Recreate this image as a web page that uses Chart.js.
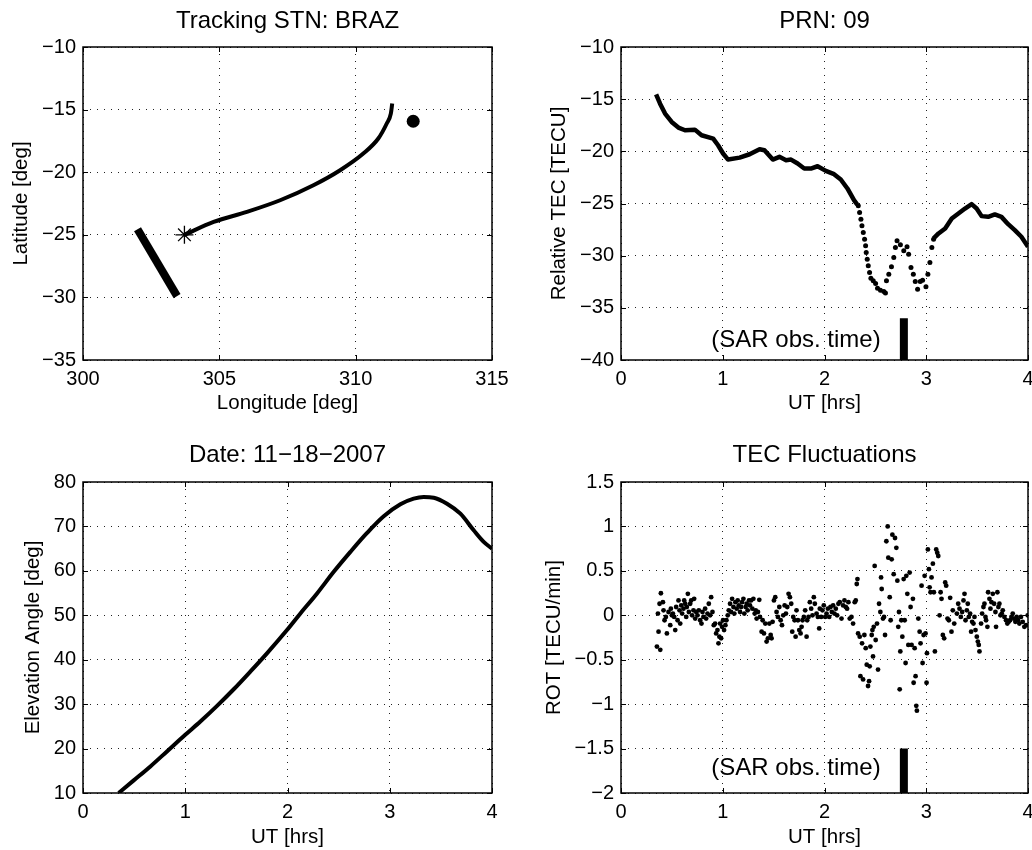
<!DOCTYPE html>
<html lang="en">

<head>
    <meta charset="UTF-8">
    <title>Tracking STN: BRAZ - PRN 09</title>
    <script src="https://cdn.jsdelivr.net/npm/chart.js"></script>
    <style>
        body { margin: 0; background: #fff; }
        .painel { position: absolute; }
    </style>
</head>

<body>
    <canvas id="canvas_track" class="painel" width="516" height="425" style="left:0;top:0"></canvas>
    <canvas id="canvas_tec" class="painel" width="516" height="425" style="left:516px;top:0"></canvas>
    <canvas id="canvas_elev" class="painel" width="516" height="425" style="left:0;top:425px"></canvas>
    <canvas id="canvas_rot" class="painel" width="516" height="425" style="left:516px;top:425px"></canvas>
</body>

</html>
<script>
    // ---- dados ----
    // trajetoria do ponto ionosferico (lon / lat)
    const trackLon = [303.72, 304.79, 306.01, 307.23, 308.45, 309.43, 310.28, 310.83, 311.14, 311.29, 311.34];
    const trackLat = [-25.0, -23.97, -23.17, -22.24, -21.04, -19.84, -18.51, -17.31, -16.11, -15.32, -14.52];
    const startLon = [303.72];
    const startLat = [-25.0];
    const stationLon = [312.11];
    const stationLat = [-15.93];
    const sceneLon = [302.0, 303.45];
    const sceneLat = [-24.55, -29.9];

    // TEC relativo: trecho inicial, trecho perturbado (pontos) e trecho final
    const tecT1 = [0.345, 0.384, 0.433, 0.498, 0.564, 0.629, 0.726, 0.792, 0.906, 0.954, 1.003, 1.052, 1.166, 1.264, 1.362, 1.41, 1.492, 1.557, 1.622, 1.671, 1.736, 1.801, 1.866, 1.932, 2.013, 2.094, 2.16, 2.225, 2.29, 2.322];
    const tecV1 = [-14.53, -15.43, -16.38, -17.18, -17.72, -17.98, -17.92, -18.46, -18.78, -19.42, -20.21, -20.79, -20.6, -20.28, -19.8, -19.89, -20.79, -20.53, -20.85, -20.79, -21.17, -21.65, -21.65, -21.43, -21.87, -22.19, -22.7, -23.56, -24.68, -25.1];
    const tecT2 = [2.332, 2.345, 2.358, 2.368, 2.381, 2.394, 2.404, 2.41, 2.42, 2.43, 2.443, 2.456, 2.479, 2.502, 2.521, 2.55, 2.583, 2.599, 2.609, 2.632, 2.658, 2.681, 2.697, 2.713, 2.746, 2.779, 2.811, 2.827, 2.85, 2.873, 2.892, 2.915, 2.941, 2.964, 2.997, 3.016, 3.036, 3.055, 3.072];
    const tecV2 = [-25.22, -25.86, -26.5, -27.14, -27.78, -28.42, -29.06, -29.7, -30.34, -30.97, -31.61, -32.16, -32.41, -32.67, -33.12, -33.31, -33.43, -33.59, -32.41, -31.77, -31.07, -30.18, -29.22, -28.58, -28.96, -29.54, -29.15, -29.86, -31.13, -31.77, -32.48, -33.21, -32.48, -32.35, -32.99, -31.77, -30.65, -29.22, -28.42];
    const tecT3 = [3.072, 3.121, 3.186, 3.251, 3.316, 3.381, 3.446, 3.495, 3.544, 3.609, 3.674, 3.739, 3.805, 3.87, 3.935, 4.0];
    const tecV3 = [-28.35, -27.87, -27.39, -26.44, -25.96, -25.48, -25.06, -25.48, -26.21, -26.28, -26.05, -26.28, -26.98, -27.55, -28.19, -29.15];

    // angulo de elevacao
    const elevT = [0.349, 0.496, 0.659, 0.821, 1.0, 1.148, 1.311, 1.474, 1.636, 1.799, 1.995, 2.126, 2.289, 2.452, 2.615, 2.778, 2.941, 3.104, 3.234, 3.332, 3.43, 3.56, 3.691, 3.821, 3.919, 4.0];
    const elevV = [10.0, 12.84, 15.99, 19.36, 23.1, 26.09, 29.61, 33.35, 37.32, 41.44, 46.68, 50.42, 54.91, 59.78, 64.27, 68.53, 72.28, 74.97, 76.24, 76.62, 76.47, 75.12, 72.87, 69.13, 66.51, 65.0];

    // ROT (TECU/min)
    const rotT = [
        0.353, 0.386, 0.369, 0.363, 0.379, 0.392, 0.412, 0.418, 0.428, 0.441, 0.451, 0.467, 0.484, 0.49, 0.5, 0.51, 0.523, 0.533, 0.542, 0.556, 0.565, 0.575, 0.582, 0.592, 0.601, 0.614, 0.621, 0.631, 0.641, 0.647, 0.657, 0.667, 0.68, 0.69, 0.699, 0.712, 0.719,
        0.729, 0.739, 0.752, 0.765, 0.778, 0.791, 0.801, 0.81, 0.827, 0.837, 0.85, 0.863, 0.876, 0.886, 0.899, 0.912, 0.925, 0.935, 0.948, 0.958, 0.967, 0.974, 0.984, 0.993, 1.003, 1.013, 1.026, 1.036,
        1.049, 1.059, 1.072, 1.082, 1.092, 1.105, 1.114, 1.124, 1.137, 1.147, 1.157, 1.17, 1.18, 1.19, 1.203, 1.212, 1.225, 1.235, 1.245, 1.258, 1.268, 1.278, 1.291, 1.301, 1.314, 1.324, 1.333, 1.346, 1.359, 1.366, 1.382, 1.392, 1.405, 1.418, 1.431, 1.444, 1.458, 1.471, 1.48, 1.49,
        1.503, 1.516, 1.529, 1.542, 1.556, 1.569, 1.582, 1.595, 1.608, 1.621, 1.634, 1.647, 1.66, 1.673, 1.683, 1.693, 1.706, 1.716, 1.725, 1.739, 1.752, 1.765, 1.775, 1.784, 1.797, 1.81, 1.824, 1.83, 1.843, 1.856, 1.869, 1.882, 1.895, 1.905,
        1.922, 1.935, 1.948, 1.954, 1.967, 1.98, 1.993, 2.007, 2.02, 2.033, 2.046, 2.059, 2.072, 2.085, 2.098, 2.111, 2.124, 2.137, 2.15, 2.167, 2.183, 2.196, 2.209, 2.222, 2.235, 2.248, 2.265, 2.281, 2.297, 2.307,
        2.317, 2.324, 2.33, 2.346, 2.353, 2.369, 2.379, 2.392, 2.405, 2.415, 2.428, 2.438, 2.444, 2.451, 2.464, 2.471, 2.477, 2.484, 2.493, 2.503, 2.516, 2.526, 2.536, 2.549, 2.556, 2.562, 2.575, 2.585, 2.595, 2.608, 2.621, 2.627, 2.641, 2.65, 2.66, 2.667, 2.68, 2.693, 2.706, 2.716, 2.725, 2.732,
        2.739, 2.745, 2.755, 2.765, 2.778, 2.788, 2.797, 2.804, 2.814, 2.824, 2.837, 2.846, 2.856, 2.869, 2.876, 2.886, 2.895, 2.902, 2.908, 2.922, 2.935, 2.944, 2.954, 2.964, 2.974, 2.984, 2.993, 3.003, 3.007,
        3.016, 3.026, 3.033, 3.042, 3.052, 3.065, 3.075, 3.085, 3.098, 3.108, 3.118, 3.131, 3.141, 3.15, 3.163, 3.176, 3.186, 3.196, 3.209, 3.222, 3.235, 3.248, 3.261, 3.275,
        3.301, 3.314, 3.327, 3.34, 3.353, 3.366, 3.376, 3.386, 3.399, 3.408, 3.418, 3.431, 3.441, 3.451, 3.464, 3.474, 3.484, 3.497, 3.507, 3.516, 3.523, 3.539, 3.549, 3.562, 3.572, 3.582, 3.588, 3.601,
        3.608, 3.621, 3.631, 3.641, 3.654, 3.667, 3.68, 3.686, 3.699, 3.709, 3.719, 3.729, 3.742, 3.752, 3.768, 3.784, 3.797, 3.81, 3.824, 3.837, 3.85, 3.863, 3.876, 3.889, 3.902, 3.915, 3.931, 3.948, 3.964, 3.98, 3.997
    ];
    const rotV = [
        -0.352, -0.389, -0.185, 0.019, 0.13, 0.248, 0.148, 0.056, -0.056, -0.019, -0.204, 0.037, -0.111, 0.074, 0, 0.019, -0.019, -0.167, 0.093, -0.056, 0.167, 0.056, -0.093, 0.111, 0.019, 0.074, 0.167, 0.13, -0.019, 0.093, 0.241, 0.037, 0.13, 0.167, 0, 0.056, 0.185,
        -0.037, 0.037, 0, 0.056, -0.056, -0.093, 0.037, -0.019, 0.074, -0.037, 0.019, 0.13, 0, 0.204, 0.037, -0.111, -0.093, -0.204, -0.167, -0.315, -0.241, -0.093, -0.259, -0.13, -0.056, -0.167, -0.111, -0.056,
        0, 0.056, 0.13, 0.037, 0.185, 0.093, 0.019, 0.148, 0.074, 0.167, 0.111, 0.037, 0.093, 0.148, 0.185, 0.019, 0.093, 0.13, 0.056, 0.167, 0.111, 0.167, 0.074, 0.185, 0.019, 0.056, -0.037, 0.037, 0.174, -0.019, -0.185, -0.056, -0.204, -0.093, -0.296, -0.259, -0.093, -0.222, -0.259, -0.074,
        0.167, 0.204, 0.037, -0.019, 0.093, -0.056, -0.111, 0, 0.111, 0.019, 0.093, 0.241, 0.204, 0.13, -0.185, -0.019, -0.056, -0.241, 0.056, -0.056, -0.167, -0.204, -0.13, -0.056, -0.019, 0.056, -0.241, -0.056, -0.019, 0.148, 0.074, 0, 0.204, 0.13,
        0.019, -0.019, -0.148, 0.074, -0.019, 0.056, 0.111, -0.019, 0.019, 0.074, -0.019, 0.093, 0.037, 0.111, 0.019, 0.074, 0, 0.13, 0.148, -0.037, 0.111, 0.167, 0.093, 0.074, 0.148, -0.037, -0.019, -0.093, 0.148, 0.167,
        0.352, 0.407, -0.204, -0.241, -0.685, -0.315, -0.722, -0.222, -0.37, -0.556, -0.796, -0.741, -0.574, -0.352, -0.222, -0.167, -0.463, -0.13, 0.556, -0.278, -0.093, -0.611, 0.13, 0.037, 0.426, 0.296, -0.037, -0.019, -0.222, 0.833, 1.0, 0.648, 0.204, -0.056, 0.63, 0.907, 0.463, 0.87, 0.759, 0.389, -0.13, 0.037,
        -0.833, -0.407, -0.056, -0.241, 0.407, -0.056, -0.537, 0.444, 0.241, -0.333, 0.481, 0.093, -0.333, 0.185, -0.759, -0.37, -0.685, -1.019, -1.074, -0.037, -0.185, -0.315, 0.333, -0.537, -0.222, 0.444, -0.204, -0.759, -0.426,
        0.741, 0.519, 0.315, 0.259, 0.426, 0.581, 0.259, -0.407, 0.741, 0.704, 0.667, 0, 0.259, 0.185, -0.222, -0.259, 0.37, 0.333, -0.037, -0.056, 0.196, -0.185, 0.056, -0.093,
        0.019, 0.13, 0.074, -0.019, 0.037, 0.167, 0.241, -0.056, 0.056, 0.13, -0.019, 0.019, -0.185, -0.074, -0.093, -0.019, -0.167, -0.241, -0.296, -0.333, -0.407, -0.093, 0.019, 0.093, 0.13, -0.019, -0.056, -0.13,
        0.259, 0.185, 0.074, 0.148, 0.241, 0.13, 0.037, -0.13, 0.259, 0.093, 0.13, 0, 0.019, 0.056, -0.019, -0.056, -0.093, -0.074, -0.056, -0.019, 0.019, -0.037, -0.074, -0.019, -0.056, -0.093, -0.019, -0.074, -0.13, -0.111, 0
    ];

    // marca do horario da imagem SAR
    const sarLabel = '(SAR obs. time)';
    const sarT = [2.78, 2.78];
    const sarTecV = [-36, -40];
    const sarRotV = [-1.5, -2];
    const sarTextT = 1.72;
    const sarTextTec = -38.1;
    const sarTextRot = -1.72;

    // ticks dos eixos
    const lonTicks = [300, 305, 310, 315];
    const latTicks = [-35, -30, -25, -20, -15, -10];
    const utTicks = [0, 1, 2, 3, 4];
    const tecTicks = [-40, -35, -30, -25, -20, -15, -10];
    const elevTicks = [10, 20, 30, 40, 50, 60, 70, 80];
    const rotTicks = [-2, -1.5, -1, -0.5, 0, 0.5, 1, 1.5];

    const fonte = "'Liberation Sans', Arial, Helvetica, sans-serif";

    function rotulo(v) {
        return String(v).replace('-', '\u2212');
    }

    function pontos(xs, ys) {
        return xs.map(function (x, i) { return { x: x, y: ys[i] }; });
    }

    // caixa fechada + ticks para dentro (estilo matlab) e texto do SAR
    const eixosMatlab = {
        id: 'eixosMatlab',
        afterDraw(chart, args, opts) {
            const ctx = chart.ctx, a = chart.chartArea, sx = chart.scales.x, sy = chart.scales.y;
            ctx.save();
            ctx.strokeStyle = '#000';
            ctx.lineWidth = 1;
            ctx.beginPath();
            sx.ticks.forEach(function (t) {
                const p = Math.round(sx.getPixelForValue(t.value)) + 0.5;
                ctx.moveTo(p, a.bottom); ctx.lineTo(p, a.bottom - 5);
                ctx.moveTo(p, a.top); ctx.lineTo(p, a.top + 5);
            });
            sy.ticks.forEach(function (t) {
                const p = Math.round(sy.getPixelForValue(t.value)) + 0.5;
                ctx.moveTo(a.left, p); ctx.lineTo(a.left + 5, p);
                ctx.moveTo(a.right, p); ctx.lineTo(a.right - 5, p);
            });
            ctx.stroke();
            ctx.lineWidth = 1.5;
            ctx.strokeRect(a.left, a.top, a.width, a.height);
            if (opts.texto) {
                ctx.fillStyle = '#000';
                ctx.font = '24px ' + fonte;
                ctx.textAlign = 'center';
                ctx.textBaseline = 'middle';
                ctx.fillText(opts.texto.label, sx.getPixelForValue(opts.texto.x), sy.getPixelForValue(opts.texto.y));
            }
            ctx.restore();
        }
    };

    function eixo(min, max, valores, titulo, tamanho, padTitulo, horizontal) {
        return {
            type: 'linear',
            min: min,
            max: max,
            afterBuildTicks: function (s) { s.ticks = valores.map(function (v) { return { value: v }; }); },
            afterFit: function (s) {
                if (horizontal) { s.height = tamanho; s.paddingLeft = 0; s.paddingRight = 0; }
                else { s.width = tamanho; s.paddingTop = 0; s.paddingBottom = 0; }
            },
            ticks: {
                color: '#000', padding: 7, autoSkip: false, maxRotation: 0,
                font: { family: fonte, size: 20 },
                callback: function (v) { return rotulo(v); }
            },
            grid: { color: '#222', lineWidth: 1, drawTicks: false },
            border: { display: false, dash: [1, 6] },
            title: {
                display: true, text: titulo, color: '#000',
                font: { family: fonte, size: 20.5 },
                padding: horizontal ? { top: 0, bottom: padTitulo } : { top: padTitulo, bottom: 0 }
            }
        };
    }

    function criarPainel(id, c) {
        return new Chart(document.getElementById(id), {
            type: 'scatter',
            data: { datasets: c.datasets },
            options: {
                responsive: false,
                animation: false,
                events: [],
                layout: { padding: { left: 0, right: c.padRight, top: 0, bottom: 0 } },
                plugins: {
                    legend: { display: false },
                    tooltip: { enabled: false },
                    title: {
                        display: true, text: c.titulo, color: '#000', fullSize: false,
                        font: { family: fonte, size: 24, weight: 'normal' },
                        padding: c.padTitulo
                    },
                    eixosMatlab: { texto: c.texto }
                },
                scales: {
                    x: eixo(c.x[0], c.x[1], c.x[2], c.x[3], c.x[4], c.x[5], true),
                    y: eixo(c.y[0], c.y[1], c.y[2], c.y[3], c.y[4], c.y[5], false)
                }
            },
            plugins: [eixosMatlab]
        });
    }

    const linha = function (xs, ys, largura) {
        return {
            data: pontos(xs, ys), showLine: true, borderColor: '#000', borderWidth: largura,
            pointRadius: 0, borderCapStyle: 'butt', borderJoinStyle: 'round'
        };
    };
    const barra = function (xs, ys, largura) {
        return {
            data: pontos(xs, ys), showLine: true, borderColor: '#000', borderWidth: largura,
            pointRadius: 0, borderCapStyle: 'butt', borderJoinStyle: 'miter', clip: 0
        };
    };
    const nuvem = function (xs, ys, raio) {
        return { data: pontos(xs, ys), showLine: false, pointRadius: raio, backgroundColor: '#000', borderWidth: 0 };
    };

    const topo = { top: 6.6, bottom: 11.6 };
    const baixo = { top: 15.6, bottom: 12.6 };

    criarPainel('canvas_track', {
        titulo: 'Tracking STN: BRAZ', padTitulo: topo, padRight: 24,
        x: [300, 315, lonTicks, 'Longitude [deg]', 65, 9],
        y: [-35, -10, latTicks, 'Latitude [deg]', 83, 9.5],
        datasets: [
            Object.assign(linha(trackLon, trackLat, 4), { cubicInterpolationMode: 'monotone' }),
            barra(sceneLon, sceneLat, 8),
            { data: pontos(startLon, startLat), pointStyle: 'star', pointRadius: 9, borderColor: '#000', borderWidth: 1.3, backgroundColor: 'rgba(0,0,0,0)' },
            nuvem(stationLon, stationLat, 6.5)
        ]
    });

    criarPainel('canvas_tec', {
        titulo: 'PRN: 09', padTitulo: topo, padRight: 2,
        x: [0, 4, utTicks, 'UT [hrs]', 65, 9],
        y: [-40, -10, tecTicks, 'Relative TEC [TECU]', 105, 31.3],
        texto: { label: sarLabel, x: sarTextT, y: sarTextTec },
        datasets: [
            linha(tecT1, tecV1, 4.5),
            nuvem(tecT2, tecV2, 2.5),
            linha(tecT3, tecV3, 4.5),
            barra(sarT, sarTecV, 8)
        ]
    });

    criarPainel('canvas_elev', {
        titulo: 'Date: 11\u221218\u22122007', padTitulo: baixo, padRight: 24,
        x: [0, 4, utTicks, 'UT [hrs]', 57, 0],
        y: [10, 80, elevTicks, 'Elevation Angle [deg]', 83, 21],
        datasets: [
            Object.assign(linha(elevT, elevV, 4), { cubicInterpolationMode: 'monotone' })
        ]
    });

    criarPainel('canvas_rot', {
        titulo: 'TEC Fluctuations', padTitulo: baixo, padRight: 2,
        x: [0, 4, utTicks, 'UT [hrs]', 57, 0],
        y: [-2, 1.5, rotTicks, 'ROT [TECU/min]', 105, 26],
        texto: { label: sarLabel, x: sarTextT, y: sarTextRot },
        datasets: [
            nuvem(rotT, rotV, 2.4),
            barra(sarT, sarRotV, 8)
        ]
    });
</script>
